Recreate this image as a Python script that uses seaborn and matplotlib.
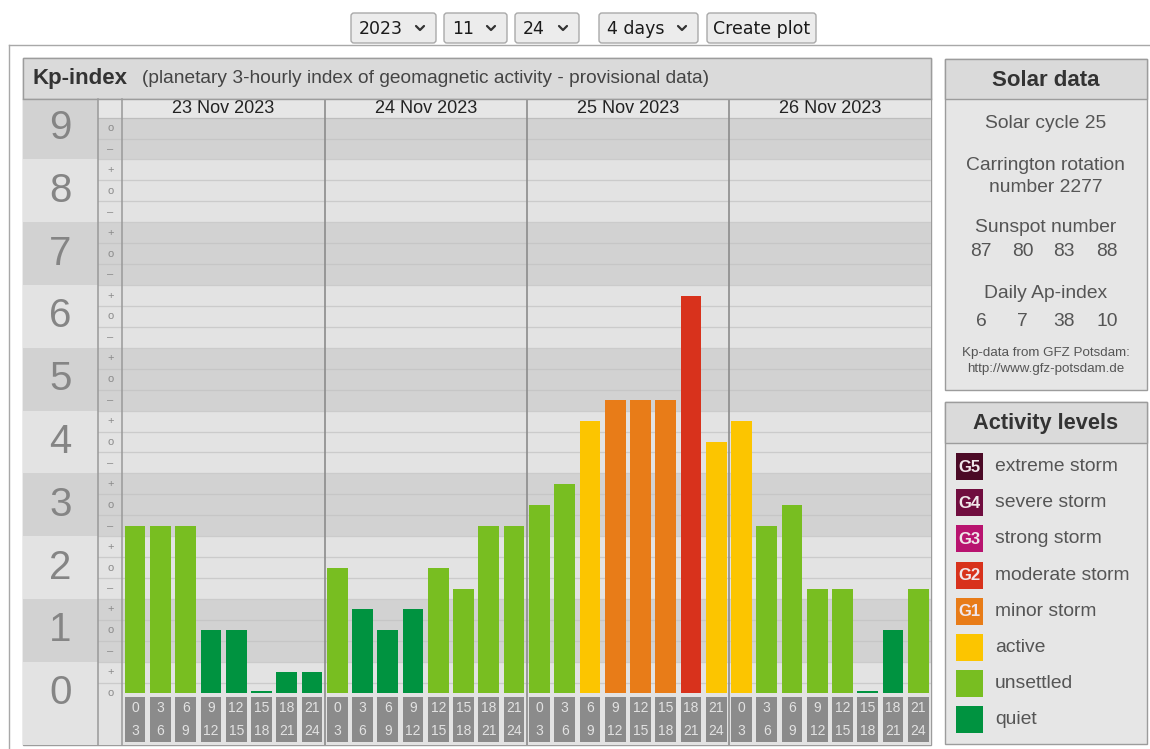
import matplotlib
matplotlib.use("Agg")
import matplotlib.pyplot as plt
from matplotlib.patches import Rectangle, FancyBboxPatch
import pandas as pd
import seaborn as sns

# Kp values per 3-hour slot, as printed on the scale (-, o, +)
days = ["23 Nov 2023", "24 Nov 2023", "25 Nov 2023", "26 Nov 2023"]
kp_23 = ["3-", "3-", "3-", "1o", "1o", "0o", "0+", "0+"]
kp_24 = ["2o", "1+", "1o", "1+", "2o", "2-", "3-", "3-"]
kp_25 = ["3o", "3+", "4+", "5-", "5-", "5-", "6+", "4o"]
kp_26 = ["4+", "3-", "3o", "2-", "2-", "0o", "1o", "2-"]
hour_starts = [0, 3, 6, 9, 12, 15, 18, 21]
hour_ends = [3, 6, 9, 12, 15, 18, 21, 24]

solar_cycle = 25
carrington_rotation = 2277
sunspot_numbers = [87, 80, 83, 88]
daily_ap = [6, 7, 38, 10]

level_names = ["extreme storm", "severe storm", "strong storm", "moderate storm",
               "minor storm", "active", "unsettled", "quiet"]
level_tags = ["G5", "G4", "G3", "G2", "G1", "", "", ""]
level_colors = ["#4b0a26", "#700d3f", "#b8136f", "#d8321c", "#e87c18",
                "#fcc500", "#78be21", "#009340"]
palette = dict(zip(level_names, level_colors))

controls = ["2023", "11", "24", "4 days"]

suffix = {"-": -1 / 3, "o": 0.0, "+": 1 / 3}


def kp_value(code):
    return int(code[0]) + suffix[code[1]]


def kp_level(v):
    n = int(round(v))
    if n <= 1:
        return "quiet"
    if n <= 3:
        return "unsettled"
    if n == 4:
        return "active"
    return {5: "minor storm", 6: "moderate storm", 7: "strong storm",
            8: "severe storm"}.get(n, "extreme storm")


rows = []
for day, codes in zip(days, [kp_23, kp_24, kp_25, kp_26]):
    for h0, h1, code in zip(hour_starts, hour_ends, codes):
        rows.append({"day": day, "start": h0, "end": h1, "code": code})
df = pd.DataFrame(rows)
df["slot"] = range(len(df))
df["kp"] = df["code"].map(kp_value)
df["level"] = df["kp"].map(kp_level)
df["bar"] = df["kp"].clip(lower=0.04)  # zero still shows as a thin line

plt.rcParams["font.family"] = ["Liberation Sans", "DejaVu Sans"]

W, H = 1150, 749
fig = plt.figure(figsize=(W / 100, H / 100), dpi=100)
fig.patch.set_facecolor("white")


def px_axes(x0, y0, x1, y1):
    return fig.add_axes([x0 / W, 1 - y1 / H, (x1 - x0) / W, (y1 - y0) / H])


LIGHT, DARK = "#e3e3e3", "#d2d2d2"
PANEL, TITLEBAR, BORDER = "#e6e6e6", "#dadada", "#9c9c9c"
TEXT = "#555555"

# ---- page decoration in pixel coordinates
bg = px_axes(0, 0, W, H)
bg.set_xlim(0, W)
bg.set_ylim(H, 0)
bg.axis("off")

bg.plot([8.5, W], [44.5, 44.5], color="#a8a8a8", lw=1)
bg.plot([8.5, 8.5], [44.5, H], color="#a8a8a8", lw=1)

ctrl_boxes = [(351, 436), (444, 507), (515, 579), (599, 698)]
for label, (x0, x1) in zip(controls, ctrl_boxes):
    bg.add_patch(FancyBboxPatch((x0, 13), x1 - x0, 30,
                                boxstyle="round,pad=0,rounding_size=3",
                                fc="#ececec", ec="#a9a9a9", lw=1))
    bg.text(x0 + 8, 28.5, label, fontsize=12.5, family="DejaVu Sans",
            color="#1a1a1a", va="center", ha="left")
    cx = x1 - 16
    bg.plot([cx - 4, cx, cx + 4], [26, 30, 26], color="#333333", lw=1.6,
            solid_capstyle="round")
bg.add_patch(FancyBboxPatch((707, 13), 109, 30,
                            boxstyle="round,pad=0,rounding_size=3",
                            fc="#ececec", ec="#a9a9a9", lw=1))
bg.text(761.5, 28.5, "Create plot", fontsize=12.5, family="DejaVu Sans",
        color="#1a1a1a", va="center", ha="center")

# Kp panel frame and title
bg.add_patch(Rectangle((22.5, 57.5), 908.5, 687.5, fc=PANEL, ec=BORDER, lw=1))
bg.add_patch(Rectangle((22.5, 57.5), 908.5, 41, fc=TITLEBAR, ec=BORDER, lw=1))
bg.text(33, 78.5, "Kp-index", fontsize=16, weight="bold", color="#333333",
        va="center")
bg.text(142, 78.5,
        "(planetary 3-hourly index of geomagnetic activity - provisional data)",
        fontsize=13.8, color="#444444", va="center")

# Solar data panel
cx = 1045.5
bg.add_patch(Rectangle((944.5, 58.5), 202.5, 331.5, fc=PANEL, ec=BORDER, lw=1))
bg.add_patch(Rectangle((944.5, 58.5), 202.5, 40, fc=TITLEBAR, ec=BORDER, lw=1))
bg.text(cx, 80, "Solar data", fontsize=16, weight="bold", color="#333333",
        ha="center", va="center")
txt = dict(fontsize=13.9, color=TEXT, ha="center", va="center")
bg.text(cx, 123, f"Solar cycle {solar_cycle}", **txt)
bg.text(cx, 165, "Carrington rotation", **txt)
bg.text(cx, 187, f"number {carrington_rotation}", **txt)
bg.text(cx, 228, "Sunspot number", **txt)
col_x = [981, 1022.5, 1064, 1107]
for x, s in zip(col_x, sunspot_numbers):
    bg.text(x, 252, str(s), **txt)
bg.text(cx, 294, "Daily Ap-index", **txt)
for x, a in zip(col_x, daily_ap):
    bg.text(x, 321, str(a), **txt)
bg.text(cx, 353, "Kp-data from GFZ Potsdam:", fontsize=9.6, color=TEXT,
        ha="center", va="center")
bg.text(cx, 369, "http://www.gfz-potsdam.de", fontsize=9.6, color=TEXT,
        ha="center", va="center")

# Activity levels panel
bg.add_patch(Rectangle((944.5, 402), 202.5, 341.5, fc=PANEL, ec=BORDER, lw=1))
bg.add_patch(Rectangle((944.5, 402), 202.5, 41, fc=TITLEBAR, ec=BORDER, lw=1))
bg.text(cx, 423, "Activity levels", fontsize=15.7, weight="bold",
        color="#333333", ha="center", va="center")
for i, (name, tag) in enumerate(zip(level_names, level_tags)):
    cy = 466.5 + i * 36.2
    bg.add_patch(Rectangle((956, cy - 13.5), 27, 27, fc=palette[name], ec="none"))
    if tag:
        bg.text(969.5, cy + 0.5, tag, fontsize=12, weight="bold",
                color="#f0e6ea", ha="center", va="center")
    bg.text(995, cy, name, fontsize=13.9, color=TEXT, va="center")

# ---- Kp scale: value v sits at 693.3 - 62.7 * v pixels
YLIM = (-0.825, 9.463)
TOP = 9 + 1 / 6

ax_int = px_axes(23, 99, 97.5, 745)
ax_sub = px_axes(98, 99, 122.5, 745)
ax = px_axes(122.5, 99, 931, 745)

for a in (ax_int, ax_sub, ax):
    a.set_ylim(*YLIM)
    a.set_facecolor(PANEL)
    for sp in a.spines.values():
        sp.set_visible(False)

for n in range(10):
    shade = DARK if n % 2 else LIGHT
    lo = n - 0.5 if n else YLIM[0]
    ax_int.axhspan(lo, n + 0.5 if n < 9 else YLIM[1], color=shade, lw=0)
    ax_sub.axhspan(lo, n + 0.5 if n < 9 else TOP, color=shade, lw=0)
    ax.axhspan(lo, n + 0.5 if n < 9 else TOP, color=shade, lw=0)
    ax_int.text(0.5, n, str(n), fontsize=29, color="#858585",
                ha="center", va="center")

sub_chars = ["o", "+", "\u2013"]
for k in range(28):
    ax_sub.text(0.5, k / 3, sub_chars[k % 3], fontsize=8, color="#8a8a8a",
                ha="center", va="center")
for k in range(27):
    y = (k + 0.5) / 3
    band = int(round(y))
    line_c = "#cbcbcb" if band % 2 == 0 else "#c6c6c6"
    ax.axhline(y, color=line_c, lw=0.9, zorder=1)
    ax_sub.axhline(y, color=line_c, lw=0.9, zorder=1)
ax.axhline(TOP, color="#bdbdbd", lw=0.9, zorder=1)
ax_sub.axhline(TOP, color="#bdbdbd", lw=0.9, zorder=1)
ax_int.set_xlim(0, 1)
ax_sub.set_xlim(0, 1)

sns.barplot(data=df, x="slot", y="bar", hue="level", palette=palette,
            dodge=False, width=0.82, saturation=1, errorbar=None,
            legend=False, ax=ax, zorder=3)

# hour boxes under each bar
ax.bar(df["slot"], -0.72, bottom=-0.06, width=0.82, color="#8b8b8b",
       lw=0, zorder=3)
for s, h0, h1 in zip(df["slot"], df["start"], df["end"]):
    ax.text(s, -0.235, str(h0), fontsize=10, color="#e2e2e2",
            ha="center", va="center", zorder=4)
    ax.text(s, -0.6, str(h1), fontsize=10, color="#e2e2e2",
            ha="center", va="center", zorder=4)

n_slots = len(hour_starts)
for i, day in enumerate(days):
    ax.text(i * n_slots + (n_slots - 1) / 2, 9.315, day, fontsize=13,
            color="#222222", ha="center", va="center")
    if i:
        ax.axvline(i * n_slots - 0.5, color="#8c8c8c", lw=1.2, zorder=5)

ax.set_xlim(-0.5, len(df) - 0.5)
ax.set_ylim(*YLIM)
for a in (ax_int, ax_sub, ax):
    a.set_xticks([])
    a.set_yticks([])
    a.set_xlabel("")
    a.set_ylabel("")

# column separators on top of everything
ov = px_axes(0, 0, W, H)
ov.set_xlim(0, W)
ov.set_ylim(H, 0)
ov.axis("off")
ov.patch.set_alpha(0)
for x in (97.8, 122.2):
    ov.plot([x, x], [99, 745], color="#999999", lw=1.1)
ov.plot([22.5, 931], [98.5, 98.5], color=BORDER, lw=1)

fig.savefig("out.png", dpi=100)
